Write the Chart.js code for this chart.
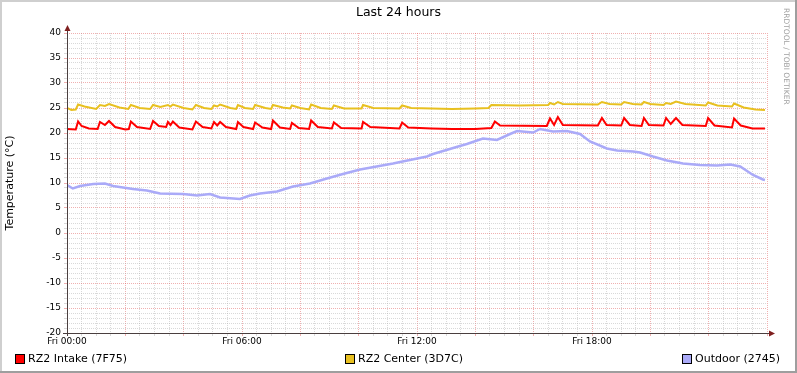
<!DOCTYPE html>
<html>
<head>
<meta charset="utf-8">
<script src="https://cdn.jsdelivr.net/npm/chart.js@4/dist/chart.umd.min.js"></script>
<style>
  html, body { margin: 0; padding: 0; background: #fff; }
  canvas { display: block; }
</style>
</head>
<body>
<canvas id="rrdChart" width="797" height="373"></canvas>
<script>
// texts
const chartTitle = 'Last 24 hours';
const yAxisTitle = 'Temperature (°C)';
const watermark = 'RRDTOOL / TOBI OETIKER';
const seriesNames = ['RZ2 Intake (7F75)', 'RZ2 Center (3D7C)', 'Outdoor (2745)'];
const hourLabels = ['Fri 00:00', 'Fri 06:00', 'Fri 12:00', 'Fri 18:00'];

// hours since Fri 00:00 / degrees C
const intakeHours = [0.00, 0.30, 0.38, 0.50, 0.75, 1.05, 1.13, 1.30, 1.44, 1.65, 2.00, 2.12, 2.19, 2.40, 2.85, 2.95, 3.15, 3.40, 3.46, 3.55, 3.63, 3.85, 4.30, 4.42, 4.65, 4.95, 5.04, 5.15, 5.25, 5.45, 5.80, 5.86, 6.05, 6.38, 6.45, 6.70, 7.00, 7.06, 7.30, 7.65, 7.71, 7.95, 8.30, 8.37, 8.60, 9.08, 9.15, 9.40, 10.10, 10.15, 10.40, 11.40, 11.49, 11.70, 12.50, 13.20, 14.00, 14.55, 14.67, 14.85, 16.45, 16.56, 16.70, 16.83, 17.00, 18.20, 18.34, 18.50, 19.00, 19.10, 19.30, 19.70, 19.78, 19.95, 20.45, 20.54, 20.70, 20.88, 21.10, 21.90, 21.98, 22.20, 22.80, 22.87, 23.10, 23.50, 23.93];
const intakeTemps = [20.8, 20.7, 22.3, 21.4, 20.9, 20.8, 22.2, 21.6, 22.4, 21.2, 20.7, 20.8, 22.3, 21.2, 20.8, 22.4, 21.4, 21.2, 22.2, 21.6, 22.3, 21.1, 20.7, 22.3, 21.2, 20.9, 22.2, 21.5, 22.2, 21.2, 20.8, 22.2, 21.2, 20.8, 22.1, 21.1, 20.8, 22.5, 21.1, 20.8, 22.0, 21.0, 20.8, 22.5, 21.2, 20.9, 22.1, 21.0, 20.9, 22.2, 21.2, 20.9, 22.1, 21.1, 20.9, 20.8, 20.8, 21.0, 22.3, 21.5, 21.4, 22.9, 21.6, 23.2, 21.6, 21.5, 23.0, 21.6, 21.5, 23.0, 21.6, 21.4, 23.0, 21.6, 21.5, 23.0, 21.8, 23.0, 21.6, 21.4, 23.0, 21.5, 21.1, 22.9, 21.5, 20.9, 20.9];

const centerHours = [0.00, 0.15, 0.30, 0.38, 0.60, 1.00, 1.13, 1.30, 1.44, 1.80, 2.10, 2.19, 2.50, 2.85, 2.95, 3.20, 3.46, 3.55, 3.63, 4.00, 4.30, 4.42, 4.70, 4.95, 5.04, 5.15, 5.25, 5.60, 5.80, 5.86, 6.10, 6.38, 6.45, 6.80, 7.00, 7.06, 7.40, 7.65, 7.71, 8.00, 8.30, 8.37, 8.70, 9.08, 9.15, 9.50, 10.10, 10.15, 10.50, 11.40, 11.49, 11.80, 12.50, 13.20, 14.00, 14.45, 14.55, 15.50, 16.50, 16.56, 16.70, 16.83, 17.00, 18.20, 18.34, 18.60, 19.00, 19.10, 19.40, 19.70, 19.78, 20.00, 20.45, 20.54, 20.70, 20.88, 21.20, 21.90, 21.98, 22.30, 22.80, 22.87, 23.20, 23.60, 23.93];
const centerTemps = [25.0, 24.6, 24.7, 25.7, 25.3, 24.8, 25.6, 25.4, 25.8, 25.1, 24.8, 25.6, 25.0, 24.8, 25.6, 25.2, 25.6, 25.3, 25.7, 25.0, 24.7, 25.6, 25.0, 24.8, 25.5, 25.3, 25.7, 25.0, 24.8, 25.6, 25.0, 24.8, 25.6, 25.0, 24.8, 25.6, 25.1, 24.9, 25.5, 25.0, 24.7, 25.7, 25.0, 24.8, 25.5, 24.9, 24.9, 25.6, 25.0, 24.9, 25.5, 25.0, 24.9, 24.8, 24.9, 25.0, 25.6, 25.5, 25.6, 26.0, 25.7, 26.2, 25.8, 25.7, 26.2, 25.8, 25.7, 26.2, 25.8, 25.7, 26.2, 25.8, 25.6, 26.0, 25.8, 26.3, 25.8, 25.5, 26.1, 25.5, 25.3, 25.9, 25.1, 24.7, 24.6];

const outdoorHours = [0.00, 0.20, 0.45, 0.90, 1.30, 1.58, 2.26, 2.74, 3.19, 3.98, 4.46, 4.90, 5.25, 5.93, 6.27, 6.62, 7.20, 7.75, 8.33, 8.91, 9.46, 10.05, 11.18, 11.42, 12.34, 12.55, 13.47, 13.71, 14.26, 14.74, 15.19, 15.43, 15.98, 16.22, 16.66, 17.14, 17.59, 17.93, 18.51, 18.86, 19.41, 19.65, 20.09, 20.57, 21.12, 21.70, 22.29, 22.74, 23.08, 23.52, 23.86, 23.93];
const outdoorTemps = [9.6, 8.9, 9.4, 9.8, 9.9, 9.4, 8.8, 8.5, 7.9, 7.8, 7.5, 7.8, 7.1, 6.8, 7.5, 7.9, 8.3, 9.3, 9.9, 10.9, 11.8, 12.7, 13.9, 14.2, 15.3, 15.8, 17.4, 17.8, 18.9, 18.6, 19.8, 20.4, 20.1, 20.8, 20.3, 20.4, 19.8, 18.3, 16.9, 16.5, 16.3, 16.1, 15.3, 14.5, 13.9, 13.6, 13.5, 13.7, 13.3, 11.6, 10.7, 10.6];

const seriesColors = ['#FF0000', '#E8C020', '#AAAAF8'];
const gridMinor = 'rgba(170,170,170,0.45)';
const gridMajor = 'rgba(222,80,80,0.45)';
const fontFamily = "'DejaVu Sans', sans-serif";

function toPoints(xs, ys) {
  return xs.map((x, i) => ({ x: x, y: ys[i] }));
}

// RRDtool-style decorations: axes with arrows, title, legend, frame
const rrdDecor = {
  id: 'rrdDecor',
  beforeDraw(chart) {
    const ctx = chart.ctx;
    ctx.save();
    ctx.fillStyle = '#fff';
    ctx.fillRect(0, 0, chart.width, chart.height);
    ctx.restore();
  },
  afterDraw(chart) {
    const ctx = chart.ctx;
    const a = chart.chartArea;
    const W = chart.width, H = chart.height;
    ctx.save();

    // axes
    ctx.strokeStyle = '#4a3f3f';
    ctx.lineWidth = 1;
    ctx.beginPath();
    ctx.moveTo(a.left + 0.5, a.bottom + 3);
    ctx.lineTo(a.left + 0.5, a.top - 4);
    ctx.moveTo(a.left - 4, a.bottom + 0.5);
    ctx.lineTo(a.right + 3, a.bottom + 0.5);
    ctx.stroke();
    ctx.fillStyle = '#7F1F1F';
    ctx.beginPath();
    ctx.moveTo(a.left + 0.5, a.top - 8);
    ctx.lineTo(a.left - 2.5, a.top - 2);
    ctx.lineTo(a.left + 3.5, a.top - 2);
    ctx.closePath();
    ctx.fill();
    ctx.beginPath();
    ctx.moveTo(a.right + 8, a.bottom + 0.5);
    ctx.lineTo(a.right + 2, a.bottom - 2.5);
    ctx.lineTo(a.right + 2, a.bottom + 3.5);
    ctx.closePath();
    ctx.fill();

    // title
    ctx.fillStyle = '#000';
    ctx.font = '12.5px ' + fontFamily;
    ctx.textAlign = 'center';
    ctx.textBaseline = 'middle';
    ctx.fillText(chartTitle, W / 2, 13);

    // watermark
    ctx.save();
    ctx.translate(786, 8);
    ctx.rotate(Math.PI / 2);
    ctx.fillStyle = '#a0a0a0';
    ctx.font = '7.5px ' + fontFamily;
    ctx.textAlign = 'left';
    ctx.textBaseline = 'middle';
    ctx.fillText(watermark, 0, 0);
    ctx.restore();

    // legend
    const legendX = [15, 345, 682];
    ctx.font = '11px ' + fontFamily;
    ctx.textAlign = 'left';
    ctx.textBaseline = 'middle';
    seriesNames.forEach((name, i) => {
      const x = legendX[i];
      ctx.fillStyle = seriesColors[i];
      ctx.fillRect(x, 354, 9, 9);
      ctx.strokeStyle = '#000';
      ctx.strokeRect(x + 0.5, 354.5, 9, 9);
      ctx.fillStyle = '#000';
      ctx.fillText(name, x + 13, 359);
    });

    // frame (light top/left, dark bottom/right)
    ctx.fillStyle = '#cfcfcf';
    ctx.fillRect(0, 0, W, 2);
    ctx.fillRect(0, 0, 2, H);
    ctx.fillStyle = '#9e9e9e';
    ctx.fillRect(0, H - 2, W, 2);
    ctx.fillRect(W - 2, 0, 2, H);
    ctx.restore();
  }
};

const ctx = document.getElementById('rrdChart').getContext('2d');
new Chart(ctx, {
  type: 'line',
  data: {
    datasets: [
      {
        label: seriesNames[0],
        data: toPoints(intakeHours, intakeTemps),
        borderColor: seriesColors[0],
        borderWidth: 2
      },
      {
        label: seriesNames[1],
        data: toPoints(centerHours, centerTemps),
        borderColor: seriesColors[1],
        borderWidth: 2
      },
      {
        label: seriesNames[2],
        data: toPoints(outdoorHours, outdoorTemps),
        borderColor: seriesColors[2],
        borderWidth: 2.5
      }
    ]
  },
  options: {
    responsive: false,
    animation: false,
    events: [],
    devicePixelRatio: 1,
    elements: {
      point: { radius: 0 },
      line: { tension: 0, fill: false }
    },
    layout: { padding: { left: 0, right: 30, top: 33, bottom: 0 } },
    plugins: {
      legend: { display: false },
      title: { display: false },
      tooltip: { enabled: false }
    },
    scales: {
      x: {
        type: 'linear',
        min: 0,
        max: 24,
        afterFit(s) { s.height = 40; },
        ticks: {
          stepSize: 0.5,
          autoSkip: false,
          maxRotation: 0,
          padding: 0,
          color: '#000',
          font: { family: fontFamily, size: 9 },
          callback: v => (v % 6 === 0 && v < 24) ? hourLabels[v / 6] : ''
        },
        grid: {
          color: c => (c.tick && c.tick.value % 2 === 0) ? gridMajor : gridMinor,
          tickLength: 3,
          lineWidth: 1
        },
        border: { display: false, dash: [1, 1] }
      },
      y: {
        min: -20,
        max: 40,
        afterFit(s) { s.width = 67; },
        title: {
          display: true,
          text: yAxisTitle,
          color: '#000',
          font: { family: fontFamily, size: 11 },
          padding: { top: 4, bottom: 0 }
        },
        ticks: {
          stepSize: 1,
          autoSkip: false,
          padding: 3,
          color: '#000',
          font: { family: fontFamily, size: 9 },
          callback: v => (v % 5 === 0) ? String(v) : ''
        },
        grid: {
          color: c => (c.tick && c.tick.value % 5 === 0) ? gridMajor : gridMinor,
          tickLength: 3,
          lineWidth: 1
        },
        border: { display: false, dash: [1, 1] }
      }
    }
  },
  plugins: [rrdDecor]
});
</script>
</body>
</html>
